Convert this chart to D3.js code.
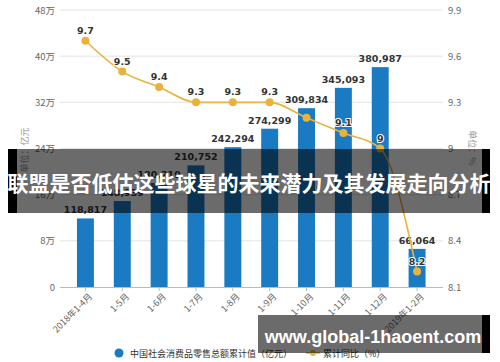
<!DOCTYPE html>
<html>
<head>
<meta charset="utf-8">
<script src="https://cdn.jsdelivr.net/npm/d3@7"></script>
<style>
  html, body { margin: 0; padding: 0; background: #fff; }
  svg { display: block; font-family: "Noto Sans CJK SC", "Noto Sans", sans-serif; }
</style>
</head>
<body>
<svg id="chart" width="500" height="362"></svg>
<script>
const MONTHS = ['2018年1-4月', '1-5月', '1-6月', '1-7月', '1-8月', '1-9月', '1-10月', '1-11月', '1-12月', '2019年1-2月']
const SALES = [118817, 148939, 180219, 210752, 242294, 274299, 309834, 345093, 380987, 66064]
const GROWTH = [9.7, 9.5, 9.4, 9.3, 9.3, 9.3, 9.2, 9.1, 9.0, 8.2]
const HIDDEN_GROWTH_LABELS = ['1-10月'] // covered by the bar label in the original
const LEFT_TICKS = [0, 80000, 160000, 240000, 320000, 400000, 480000]
const RIGHT_TICKS = [8.1, 8.4, 8.7, 9.0, 9.3, 9.6, 9.9]

const BLUE = '#1a7bc3'
const GOLD = '#e8b33c'
const plot = { left: 60, right: 443, top: 10, bottom: 287 }

const svg = d3.select('#chart')

const x = d3.scaleBand()
  .domain(MONTHS)
  .range([67, 435.5])
  .paddingInner(0.54)
  .paddingOuter(0.27)

const yL = d3.scaleLinear().domain([0, 480000]).range([plot.bottom, plot.top])
const yR = d3.scaleLinear().domain([8.1, 9.9]).range([plot.bottom, plot.top])

// gridlines
svg.append('g')
  .selectAll('line')
  .data(LEFT_TICKS.slice(1))
  .join('line')
  .attr('x1', plot.left)
  .attr('x2', plot.right)
  .attr('y1', d => yL(d))
  .attr('y2', d => yL(d))
  .attr('stroke', '#e3e3e3')
  .attr('stroke-width', 1)

// left axis
const leftAxis = svg.append('g')
  .attr('transform', `translate(${plot.left - 4},0)`)
  .call(d3.axisLeft(yL).tickValues(LEFT_TICKS).tickSize(0).tickPadding(1)
    .tickFormat(d => d === 0 ? '0' : (d / 10000) + '万'))
leftAxis.select('.domain').remove()
leftAxis.selectAll('text').attr('fill', '#666').attr('font-size', 9.5)
  .style('font-family', '"Noto Sans CJK SC", sans-serif')

// right axis
const rightAxis = svg.append('g')
  .attr('transform', `translate(${plot.right + 4},0)`)
  .call(d3.axisRight(yR).tickValues(RIGHT_TICKS).tickSize(0).tickPadding(1)
    .tickFormat(d => d === 9 ? '9' : d3.format('.1f')(d)))
rightAxis.select('.domain').remove()
rightAxis.selectAll('text').attr('fill', '#666').attr('font-size', 9.5)
  .style('font-family', '"Noto Sans CJK SC", sans-serif')

// axis titles
svg.append('text')
  .attr('transform', 'translate(28,150) rotate(-90)')
  .attr('text-anchor', 'middle')
  .attr('fill', '#999')
  .attr('font-size', 9)
  .text('单位：亿元')

svg.append('text')
  .attr('transform', 'translate(469,148) rotate(90)')
  .attr('text-anchor', 'middle')
  .attr('fill', '#999')
  .attr('font-size', 9)
  .text('单位：%')

// bars
svg.append('g')
  .selectAll('rect')
  .data(SALES)
  .join('rect')
  .attr('x', (d, i) => x(MONTHS[i]))
  .attr('width', x.bandwidth())
  .attr('y', d => yL(d))
  .attr('height', d => yL(0) - yL(d))
  .attr('fill', BLUE)

// x axis baseline
const xAxis = svg.append('g')
  .attr('transform', `translate(0,${plot.bottom})`)
  .call(d3.axisBottom(x).tickSize(4).tickSizeOuter(0))
xAxis.select('.domain').attr('d', `M${plot.left},0.5H${plot.right}`).attr('stroke', '#bbb')
xAxis.selectAll('.tick line').attr('stroke', '#bbb')
xAxis.selectAll('text')
  .attr('fill', '#666')
  .attr('font-size', 9)
  .style('font-family', '"Noto Sans CJK SC", sans-serif')
  .attr('text-anchor', 'end')
  .attr('dx', '-0.2em')
  .attr('dy', '0.6em')
  .attr('transform', 'rotate(-45)')

// bar labels
svg.append('g')
  .selectAll('text')
  .data(SALES)
  .join('text')
  .attr('x', (d, i) => x(MONTHS[i]) + x.bandwidth() / 2)
  .attr('y', d => yL(d) - 5)
  .attr('text-anchor', 'middle')
  .attr('font-size', 9.5)
  .attr('font-weight', 'bold')
  .attr('fill', '#333')
  .style('font-family', '"DejaVu Sans", sans-serif')
  .text(d => d3.format(',')(d))

// growth line
const cx = (d, i) => x(MONTHS[i]) + x.bandwidth() / 2
const line = d3.line()
  .x(cx)
  .y(d => yR(d))
  .curve(d3.curveMonotoneX)

svg.append('path')
  .datum(GROWTH)
  .attr('d', line)
  .attr('fill', 'none')
  .attr('stroke', GOLD)
  .attr('stroke-width', 1.6)

svg.append('g')
  .selectAll('circle')
  .data(GROWTH)
  .join('circle')
  .attr('cx', cx)
  .attr('cy', d => yR(d))
  .attr('r', 4)
  .attr('fill', GOLD)

const growthPts = GROWTH.map((v, i) => ({ v, i })).filter(p => !HIDDEN_GROWTH_LABELS.includes(MONTHS[p.i]))
svg.append('g')
  .selectAll('text')
  .data(growthPts)
  .join('text')
  .attr('x', p => cx(p.v, p.i))
  .attr('y', p => yR(p.v) - 7)
  .attr('text-anchor', 'middle')
  .attr('font-size', 9.5)
  .attr('font-weight', 'bold')
  .attr('fill', '#333')
  .attr('stroke', '#fff')
  .attr('stroke-width', 2)
  .attr('paint-order', 'stroke')
  .style('font-family', '"DejaVu Sans", sans-serif')
  .text(p => p.v === 9 ? '9' : d3.format('.1f')(p.v))

// legend
const legend = svg.append('g').attr('font-size', 9).attr('fill', '#333')
legend.append('circle').attr('cx', 119).attr('cy', 353).attr('r', 4.5).attr('fill', BLUE)
legend.append('text').attr('x', 130).attr('y', 356.5).text('中国社会消费品零售总额累计值（亿元）')
legend.append('line').attr('x1', 306).attr('x2', 320).attr('y1', 353).attr('y2', 353)
  .attr('stroke', GOLD).attr('stroke-width', 1.6)
legend.append('circle').attr('cx', 313).attr('cy', 353).attr('r', 3).attr('fill', GOLD)
legend.append('text').attr('x', 323).attr('y', 356.5).text('累计同比（%）')

// overlay title banner
svg.append('rect').attr('x', 8).attr('y', 149).attr('width', 482).attr('height', 64)
  .attr('fill', 'rgba(0,0,0,0.58)')
svg.append('rect').attr('x', 8).attr('y', 149).attr('width', 9).attr('height', 64).attr('fill', '#000')
svg.append('rect').attr('x', 482).attr('y', 149).attr('width', 8).attr('height', 64).attr('fill', '#000')
svg.append('text')
  .attr('x', 249)
  .attr('y', 191)
  .attr('text-anchor', 'middle')
  .attr('fill', '#fff')
  .attr('font-size', 21)
  .attr('font-weight', 'bold')
  .text('联盟是否低估这些球星的未来潜力及其发展走向分析')

// overlay url banner
svg.append('rect').attr('x', 258).attr('y', 315).attr('width', 232).attr('height', 38)
  .attr('fill', 'rgba(0,0,0,0.58)')
svg.append('rect').attr('x', 482).attr('y', 315).attr('width', 8).attr('height', 38).attr('fill', '#000')
svg.append('text')
  .attr('x', 373)
  .attr('y', 343)
  .attr('text-anchor', 'middle')
  .attr('fill', '#fff')
  .attr('font-size', 18)
  .attr('font-weight', 'bold')
  .style('font-family', '"Liberation Sans", Arial, sans-serif')
  .text('www.global-1haoent.com')
</script>
</body>
</html>
